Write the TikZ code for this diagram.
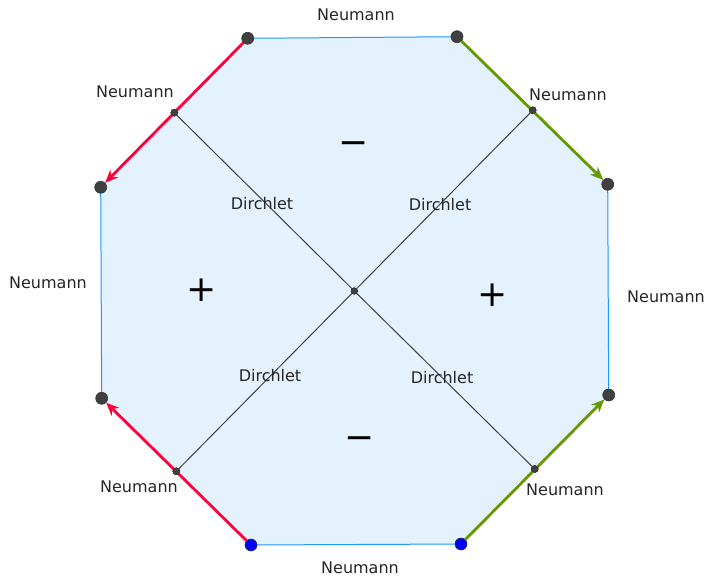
\documentclass[tikz,border=0pt]{standalone}
\usepackage{fontspec}
\setmainfont{DejaVu Sans}
\usetikzlibrary{arrows.meta}
\definecolor{fillblue}{RGB}{228,242,253}
\definecolor{edgeblue}{RGB}{30,150,255}
\definecolor{redarrow}{RGB}{255,0,60}
\definecolor{greenarrow}{RGB}{102,153,0}
\definecolor{dotgray}{RGB}{64,64,64}
\tikzset{
  vtx/.style={circle,fill=dotgray,draw=black!80,line width=0.6pt,minimum size=12pt,inner sep=0pt},
  bvtx/.style={circle,fill=blue,draw=black!80,line width=0.6pt,minimum size=12pt,inner sep=0pt},
  mid/.style={circle,fill=dotgray,draw=black!80,line width=0.5pt,minimum size=7pt,inner sep=0pt},
  lbl/.style={font=\fontsize{16}{18}\selectfont,text=black!85,inner sep=0pt},
  sgn/.style={font=\fontsize{36}{38}\selectfont,inner sep=0pt},
  edge/.style={draw=edgeblue,line width=1pt},
  diag/.style={draw=black!75,line width=1pt},
  redarr/.style={draw=redarrow,line width=2.8pt,-{Stealth[length=13pt,width=11pt]}},
  grnarr/.style={draw=greenarrow,line width=2.8pt,-{Stealth[length=13pt,width=11pt]}}
}
\begin{document}
\begin{tikzpicture}[x=1pt,y=-1pt]
\useasboundingbox (0,0) rectangle (706,580);
\fill[white] (0,0) rectangle (706,580);
% coordinates
\coordinate (p1) at (247.7,38.3);
\coordinate (p2) at (457,36.7);
\coordinate (p3) at (607.7,184.3);
\coordinate (p4) at (608.7,395);
\coordinate (p5) at (461,544);
\coordinate (p6) at (251,545);
\coordinate (p7) at (101.7,398.3);
\coordinate (p8) at (100.7,187.3);
% fill
\fill[fillblue] (p1) -- (p2) -- (p3) -- (p4) -- (p5) -- (p6) -- (p7) -- (p8) -- cycle;
% blue edges
\draw[edge] (p1) -- (p2);
\draw[edge] (p3) -- (p4);
\draw[edge] (p5) -- (p6);
\draw[edge] (p7) -- (p8);
% nodes
\node[mid] (m1) at (174.3,112.7) {};
\node[mid] (m2) at (532.7,110.3) {};
\node[mid] (m3) at (534.7,469) {};
\node[mid] (m4) at (176.3,471.3) {};
\node[mid,minimum size=6.5pt] (c) at (354.3,291) {};
% diagonals
\draw[diag] (m1) -- (c);
\draw[diag] (m2) -- (c);
\draw[diag] (m3) -- (c);
\draw[diag] (m4) -- (c);
\node[mid,minimum size=6.5pt] at (c) {};
% vertex nodes
\node[vtx] (v1) at (p1) {};
\node[vtx] (v2) at (p2) {};
\node[vtx] (v3) at (p3) {};
\node[vtx] (v4) at (p4) {};
\node[bvtx] (v5) at (p5) {};
\node[bvtx] (v6) at (p6) {};
\node[vtx] (v7) at (p7) {};
\node[vtx] (v8) at (p8) {};
% arrows
\draw[redarr] (v1) -- (v8);
\draw[redarr] (v6) -- (v7);
\draw[grnarr] (v2) -- (v3);
\draw[grnarr] (v5) -- (v4);
\node[mid] at (m1) {};
\node[mid] at (m2) {};
\node[mid] at (m3) {};
\node[mid] at (m4) {};
% labels
\node[lbl] (n1) at (356,15) {Neumann};
\node[lbl] (n2) at (135,92) {Neumann};
\node[lbl] (n3) at (568,95) {Neumann};
\node[lbl] (n4) at (48,283) {Neumann};
\node[lbl] (n5) at (666,297) {Neumann};
\node[lbl] (n6) at (139,487) {Neumann};
\node[lbl] (n7) at (565,490) {Neumann};
\node[lbl] (n8) at (360,568) {Neumann};
\node[lbl] (d1) at (262,204) {Dirchlet};
\node[lbl] (d2) at (440,205) {Dirchlet};
\node[lbl] (d3) at (270,376) {Dirchlet};
\node[lbl] (d4) at (442,378) {Dirchlet};
% signs
\node[sgn] (s1) at (354,148) {−};
\node[sgn] (s2) at (202,290) {+};
\node[sgn] (s3) at (493,295) {+};
\node[sgn] (s4) at (360,443) {−};
\end{tikzpicture}
\end{document}
